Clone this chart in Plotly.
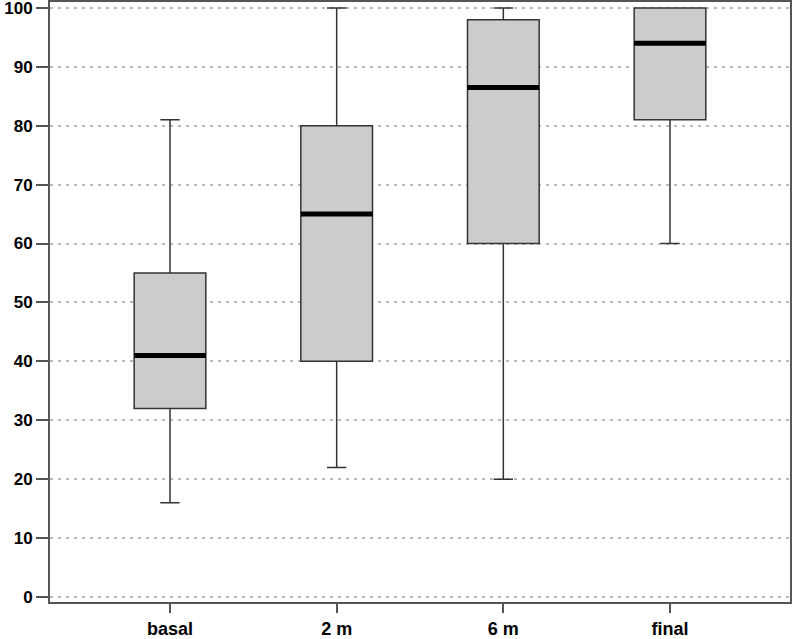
import plotly.graph_objects as go

# Summary statistics
groups = ['basal', '2 m', '6 m', 'final']
lower = [16, 22, 20, 60]
q1 = [32, 40, 60, 81]
median = [41, 65, 86.5, 94]
q3 = [55, 80, 98, 100]
upper = [81, 100, 100, 100]
y_ticks = list(range(0, 101, 10))

box_width = 0.43

fig = go.Figure()
fig.add_trace(go.Box(
    x=groups,
    q1=q1,
    median=median,
    q3=q3,
    lowerfence=lower,
    upperfence=upper,
    width=box_width,
    whiskerwidth=0.27,
    fillcolor='#cccccc',
    line=dict(color='#333333', width=1.5),
    boxpoints=False,
    hoverinfo='skip',
))

# thick black median bars (plotly draws median in the box line colour)
for i, m in enumerate(median):
    fig.add_shape(type='line', xref='x', yref='y',
                  x0=i - box_width / 2, x1=i + box_width / 2, y0=m, y1=m,
                  line=dict(color='black', width=5))

tick_font = dict(family='Liberation Sans, Arial, sans-serif', size=17,
                 color='black', weight='bold')

fig.update_xaxes(
    range=[-0.72, 3.72],
    automargin=False,
    showgrid=False,
    showline=True, linecolor='#555555', linewidth=2,
    mirror=True,
    ticks='outside', ticklen=9, tickwidth=2, tickcolor='#555555',
    tickfont=dict(tick_font, size=18),
    ticklabeloverflow='allow',
)
fig.update_yaxes(
    range=[-0.85, 101],
    automargin=False,
    tickvals=y_ticks,
    showgrid=True, gridcolor='#b8b8b8', griddash='3px,5px', gridwidth=1.5,
    zeroline=False,
    showline=True, linecolor='#555555', linewidth=2,
    mirror=True,
    ticks='outside', ticklen=12, tickwidth=2, tickcolor='#555555',
    tickfont=tick_font,
    ticklabeloverflow='allow',
)
fig.update_layout(
    width=792, height=639,
    margin=dict(l=50, r=2, t=2, b=37),
    plot_bgcolor='white',
    paper_bgcolor='white',
    showlegend=False,
)
# drop the browser's default page margin so the figure sits at the corner
fig.write_html('out.html', config={'displayModeBar': False},
               post_script="document.body.style.margin='0';")
